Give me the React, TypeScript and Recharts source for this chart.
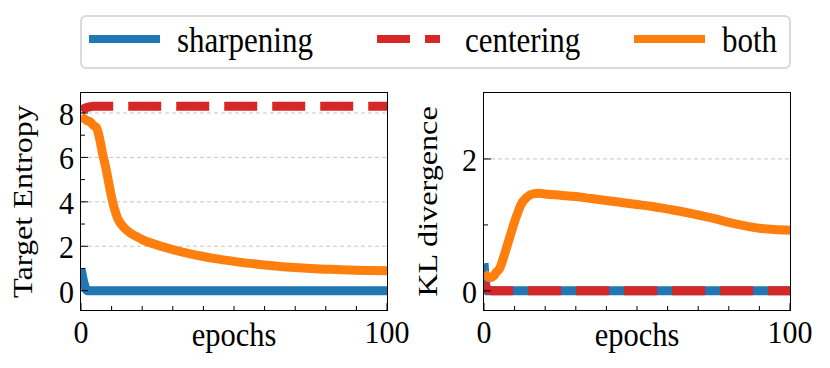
import { LineChart, Line, XAxis, YAxis, ReferenceLine } from 'recharts'

const EPOCHS = [0, 1, 2, 3, 4, 5, 6, 7, 8, 9, 10, 11, 12, 14, 16, 18, 20, 25, 30, 35, 40, 45, 50, 55, 60, 65, 70, 75, 80, 85, 90, 95, 100]

const ENTROPY_SHARPENING = [1.0, 0.35, 0, 0, 0, 0, 0, 0, 0, 0, 0, 0, 0, 0, 0, 0, 0, 0, 0, 0, 0, 0, 0, 0, 0, 0, 0, 0, 0, 0, 0, 0, 0]
const ENTROPY_CENTERING = [8.12, 8.2, 8.25, 8.28, 8.3, 8.3, 8.3, 8.3, 8.3, 8.3, 8.3, 8.3, 8.3, 8.3, 8.3, 8.3, 8.3, 8.3, 8.3, 8.3, 8.3, 8.3, 8.3, 8.3, 8.3, 8.3, 8.3, 8.3, 8.3, 8.3, 8.3, 8.3, 8.3]
const ENTROPY_BOTH = [7.85, 7.75, 7.65, 7.6, 7.45, 7.35, 6.9, 6.2, 5.6, 4.9, 4.2, 3.65, 3.25, 2.85, 2.6, 2.45, 2.3, 2.05, 1.85, 1.68, 1.54, 1.42, 1.32, 1.23, 1.16, 1.09, 1.04, 1.0, 0.97, 0.94, 0.92, 0.91, 0.9]

const KL_SHARPENING = [0.42, 0, 0, 0, 0, 0, 0, 0, 0, 0, 0, 0, 0, 0, 0, 0, 0, 0, 0, 0, 0, 0, 0, 0, 0, 0, 0, 0, 0, 0, 0, 0, 0]
const KL_CENTERING = [0.12, 0.03, 0.01, 0, 0, 0, 0, 0, 0, 0, 0, 0, 0, 0, 0, 0, 0, 0, 0, 0, 0, 0, 0, 0, 0, 0, 0, 0, 0, 0, 0, 0, 0]
const KL_BOTH = [0.28, 0.22, 0.2, 0.22, 0.28, 0.33, 0.45, 0.6, 0.75, 0.9, 1.05, 1.18, 1.3, 1.42, 1.47, 1.48, 1.47, 1.45, 1.43, 1.4, 1.37, 1.34, 1.31, 1.28, 1.24, 1.2, 1.15, 1.1, 1.04, 0.99, 0.95, 0.93, 0.92]

const X_TICKS = [0, 10, 20, 30, 40, 50, 60, 70, 80, 90, 100]
const X_LABELED = [0, 100]

const BLUE = '#1f77b4'
const RED = '#d62728'
const ORANGE = '#ff7f0e'
const FONT = '"Liberation Serif", "Times New Roman", serif'

const W = 830
const H = 368
const PLOT_TOP = 93
const PLOT_BOTTOM = 310
const Y_AXIS_W = 50
const X_AXIS_H = 40
// the reference is slightly stretched vertically
const STRETCH = 1.13

const entropyData = EPOCHS.map((e, i) => ({
  epoch: e,
  sharpening: ENTROPY_SHARPENING[i],
  centering: ENTROPY_CENTERING[i],
  both: ENTROPY_BOTH[i],
}))

const klData = EPOCHS.map((e, i) => ({
  epoch: e,
  sharpening: KL_SHARPENING[i],
  centering: KL_CENTERING[i],
  both: KL_BOTH[i],
}))

function SText({ x, y, size, anchor = 'start', sx = 1, sy = 1, rotate = 0, baseline, children }: any) {
  return (
    <text
      transform={`translate(${x} ${y}) rotate(${rotate}) scale(${sx} ${sy})`}
      textAnchor={anchor}
      dominantBaseline={baseline}
      fontSize={size}
      fontFamily={FONT}
      fill="#000"
    >
      {children}
    </text>
  )
}

type PanelProps = {
  data: typeof entropyData
  left: number
  right: number
  domain: [number, number]
  yTicks: number[]
  yMajor: number[]
  yLabel: string
  labelOffset: number
}

function Panel({ data, left, right, domain, yTicks, yMajor, yLabel, labelOffset }: PanelProps) {
  const xTick = (p: any) => {
    const v = p.payload.value
    const major = X_LABELED.includes(v)
    return (
      <g>
        <line x1={p.x} x2={p.x} y1={p.y} y2={p.y - (major ? 7 : 4)} stroke="#000" strokeWidth={1} />
        {major && <SText x={p.x} y={p.y + 33} size={30} sy={1.05} anchor="middle">{v}</SText>}
      </g>
    )
  }
  const yTick = (p: any) => {
    const v = p.payload.value
    const major = yMajor.includes(v)
    return (
      <g>
        <line x1={p.x} x2={p.x + (major ? 7 : 4)} y1={p.y} y2={p.y} stroke="#000" strokeWidth={1} />
        {major && <SText x={p.x - 7} y={p.y + 12} size={30} sy={1.05} anchor="end">{v}</SText>}
      </g>
    )
  }

  const plotW = W - left - right
  const plotH = PLOT_BOTTOM - PLOT_TOP
  const cx = left - labelOffset
  const cy = PLOT_TOP + plotH / 2

  return (
    <div style={{ position: 'absolute', left: 0, top: 0 }}>
      <LineChart
        width={W}
        height={H}
        data={data}
        margin={{ top: PLOT_TOP, bottom: H - PLOT_BOTTOM - X_AXIS_H, left: left - Y_AXIS_W, right }}
      >
        {yMajor.map((v) => (
          <ReferenceLine key={v} y={v} stroke="#b8b8b8" strokeWidth={0.8} strokeDasharray="4 3" />
        ))}
        <XAxis
          dataKey="epoch"
          type="number"
          domain={[0, 100]}
          allowDataOverflow
          ticks={X_TICKS}
          interval={0}
          height={X_AXIS_H}
          tickSize={0}
          tickMargin={0}
          tickLine={false}
          axisLine={false}
          tick={xTick}
        />
        <YAxis
          type="number"
          domain={domain}
          allowDataOverflow
          ticks={yTicks}
          interval={0}
          width={Y_AXIS_W}
          tickSize={0}
          tickMargin={0}
          tickLine={false}
          axisLine={false}
          tick={yTick}
        />
        <Line type="monotone" dataKey="sharpening" stroke={BLUE} strokeWidth={9} dot={false} isAnimationActive={false} />
        <Line type="monotone" dataKey="centering" stroke={RED} strokeWidth={9} strokeDasharray="33 15" dot={false} isAnimationActive={false} />
        <Line type="monotone" dataKey="both" stroke={ORANGE} strokeWidth={9} dot={false} isAnimationActive={false} />
      </LineChart>
      <svg width={W} height={H} style={{ position: 'absolute', left: 0, top: 0, pointerEvents: 'none' }}>
        <SText x={cx} y={cy} size={28} rotate={-90} sx={1.15} anchor="middle" baseline="central">{yLabel}</SText>
        <SText x={left + plotW / 2} y={PLOT_BOTTOM + 36} size={30.5} sy={STRETCH} anchor="middle">epochs</SText>
      </svg>
      <div
        style={{
          position: 'absolute',
          left: left - 1,
          top: PLOT_TOP - 1,
          width: plotW,
          height: plotH,
          border: '1.3px solid #000',
          pointerEvents: 'none',
        }}
      />
    </div>
  )
}

const LEGEND = [
  { name: 'sharpening', color: BLUE, dash: undefined, left: 89 },
  { name: 'centering', color: RED, dash: '33 15 15 8', left: 377 },
  { name: 'both', color: ORANGE, dash: undefined, left: 634 },
]

export default function App() {
  return (
    <div style={{ position: 'absolute', left: 0, top: 0, width: W, height: H, background: '#fff', fontFamily: FONT }}>
      <Panel
        data={entropyData}
        left={81}
        right={W - 387}
        domain={[-0.87, 8.9]}
        yTicks={[0, 1, 2, 3, 4, 5, 6, 7, 8]}
        yMajor={[0, 2, 4, 6, 8]}
        yLabel="Target Entropy"
        labelOffset={58}
      />
      <Panel
        data={klData}
        left={484}
        right={W - 790}
        domain={[-0.29, 3.0]}
        yTicks={[0, 1, 2]}
        yMajor={[0, 2]}
        yLabel="KL divergence"
        labelOffset={56}
      />
      <svg width={W} height={80} style={{ position: 'absolute', left: 0, top: 0 }}>
        <rect x={81} y={16} width={709} height={52} rx={5} ry={5} fill="#fff" stroke="#d0d0d0" strokeWidth={1.5} />
        {LEGEND.map((item) => (
          <g key={item.name}>
            <line x1={item.left} x2={item.left + 71} y1={39} y2={39} stroke={item.color} strokeWidth={8} strokeDasharray={item.dash} />
            <SText x={item.left + 88} y={52} size={31} sy={STRETCH}>{item.name}</SText>
          </g>
        ))}
      </svg>
    </div>
  )
}
